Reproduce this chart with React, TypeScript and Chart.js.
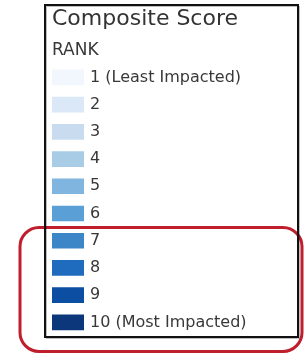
import React, { useEffect, useRef } from "react";
import { Chart, registerables } from "chart.js";

Chart.register(...registerables);

const titleText = "Composite Score";
const subtitleText = "RANK";
const rankLabels = [
  "1 (Least Impacted)",
  "2",
  "3",
  "4",
  "5",
  "6",
  "7",
  "8",
  "9",
  "10 (Most Impacted)",
];
const swatchValues = [1, 1, 1, 1, 1, 1, 1, 1, 1, 1];
const rankColors = [
  "#f2f7fd",
  "#dbe8f7",
  "#c8dbef",
  "#a8cce6",
  "#7fb5de",
  "#5a9fd5",
  "#3c86c8",
  "#1f6bbd",
  "#0b4ea2",
  "#0c377a",
];

const FONT = "'DejaVu Sans', sans-serif";

const framePlugin = {
  id: "frame",
  afterDraw(chart: any) {
    const ctx = chart.ctx;
    ctx.save();
    ctx.strokeStyle = "#bf1e2d";
    ctx.lineWidth = 3;
    const x0 = 20, y0 = 227.5, x1 = 302, y1 = 351.5, r = 19;
    ctx.beginPath();
    ctx.moveTo(x0 + r, y0);
    ctx.lineTo(x1 - r, y0);
    ctx.arcTo(x1, y0, x1, y0 + r, r);
    ctx.lineTo(x1, y1 - r);
    ctx.arcTo(x1, y1, x1 - r, y1, r);
    ctx.lineTo(x0 + r, y1);
    ctx.arcTo(x0, y1, x0, y1 - r, r);
    ctx.lineTo(x0, y0 + r);
    ctx.arcTo(x0, y0, x0 + r, y0, r);
    ctx.closePath();
    ctx.stroke();
    ctx.strokeStyle = "rgba(0,0,0,0.25)";
    ctx.lineWidth = 1;
    ctx.strokeRect(46.5, 6.5, 253, 332);
    ctx.strokeStyle = "#111";
    ctx.lineWidth = 2;
    ctx.strokeRect(45, 5, 253, 332);
    ctx.restore();
  },
};

export default function App() {
  const ref = useRef<HTMLCanvasElement | null>(null);
  useEffect(() => {
    if (!ref.current) return;
    const chart = new Chart(ref.current, {
      type: "bar",
      data: {
        labels: rankLabels,
        datasets: [
          {
            data: swatchValues,
            backgroundColor: rankColors,
            borderWidth: 0,
            barThickness: 15,
          },
        ],
      },
      plugins: [framePlugin],
      options: {
        indexAxis: "y",
        responsive: false,
        maintainAspectRatio: false,
        animation: false,
        layout: { padding: { left: 52, right: 0, top: 0, bottom: 19 } },
        plugins: {
          legend: { display: false },
          tooltip: { enabled: false },
          title: {
            display: true,
            text: titleText,
            align: "start",
            color: "#333",
            font: { family: FONT, size: 22, weight: "normal" },
            padding: { top: 6, bottom: 0 },
          },
          subtitle: {
            display: true,
            text: subtitleText,
            align: "start",
            color: "#383838",
            font: { family: FONT, size: 17, weight: "normal" },
            padding: { top: 8, bottom: 3 },
          },
        },
        scales: {
          x: { display: false, min: 0, max: 1 },
          y: {
            position: "left",
            border: { display: false },
            grid: { display: false, drawTicks: false },
            afterFit: (s: any) => {
              s.width = 0;
              s.paddingTop = 0;
              s.paddingBottom = 0;
            },
            ticks: {
              mirror: true,
              padding: 38,
              color: "#383838",
              font: { family: FONT, size: 16 },
            },
          },
          spacer: {
            type: "linear",
            axis: "y",
            position: "right",
            display: true,
            border: { display: false },
            grid: { display: false, drawTicks: false },
            ticks: { display: false },
            afterFit: (s: any) => {
              s.width = 221;
            },
          },
        },
      },
    });
    return () => chart.destroy();
  }, []);
  return (
    <div style={{ position: "fixed", left: 0, top: 0, width: 305, height: 355, background: "#fff" }}>
      <canvas ref={ref} width={305} height={355} />
    </div>
  );
}
